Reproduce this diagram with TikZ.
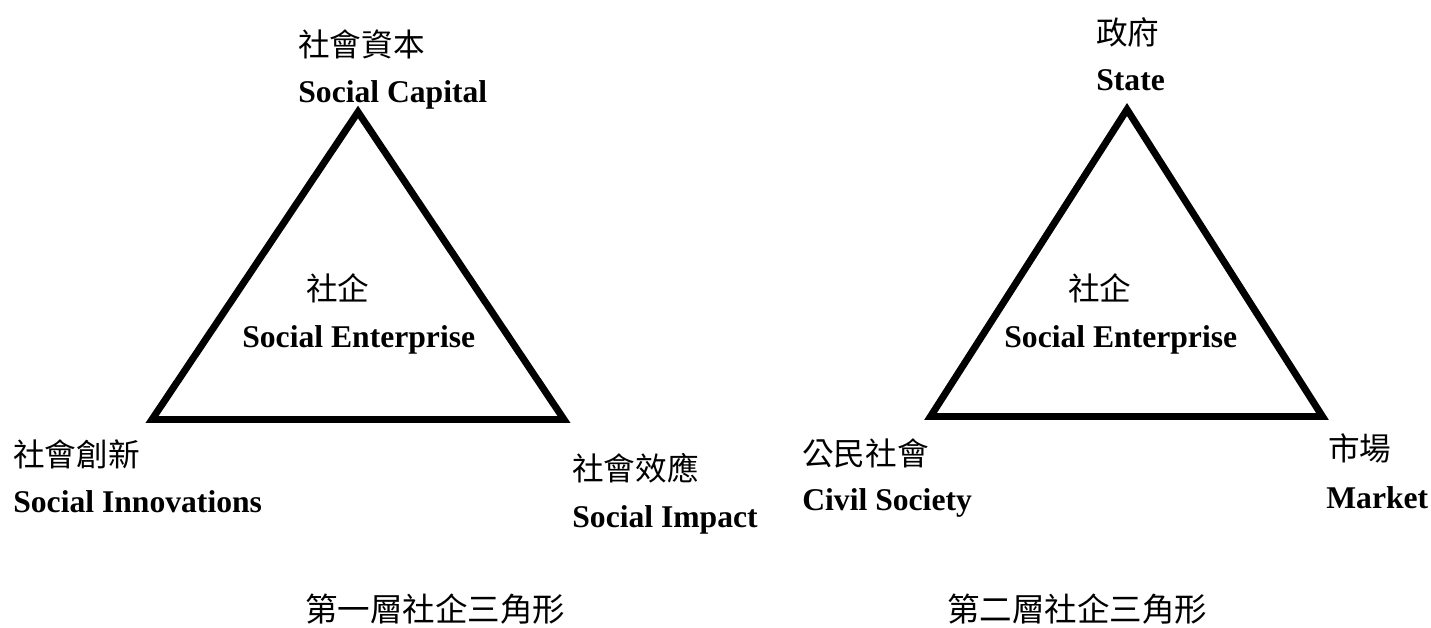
\documentclass[tikz,border=0pt]{standalone}
\usepackage{fontspec}
\setmainfont{Liberation Serif}
\newfontfamily\cjk{Noto Sans CJK TC}
\tikzset{
  zh/.style={anchor=base west, inner sep=0pt, font=\cjk\fontsize{18pt}{20pt}\selectfont},
  en/.style={anchor=base west, inner sep=0pt, font=\bfseries\fontsize{18pt}{20pt}\selectfont},
  caption/.style={anchor=base west, inner sep=0pt, font=\cjk\fontsize{18.5pt}{22pt}\selectfont},
  tri/.style={line width=0.14cm, line join=miter}
}
\begin{document}
\begin{tikzpicture}[x=0.02cm, y=-0.02cm]
    \useasboundingbox (0, 0) rectangle (1431, 628);
    % first triangle
    \coordinate (capital) at (358, 112);
    \coordinate (innov) at (152, 419.5);
    \coordinate (impact) at (564, 419.5);
    \draw[tri] (capital) -- (innov) -- (impact) -- cycle;
    \node[zh] (capitalzh) at (298, 57) {社會資本};
    \node[en] (capitalen) at (298, 103) {Social Capital};
    \node[zh] (innovzh) at (13, 466) {社會創新};
    \node[en] (innoven) at (13, 512) {Social Innovations};
    \node[zh] (impactzh) at (572, 480) {社會效應};
    \node[en] (impacten) at (572, 527) {Social Impact};
    \node[zh] (sezh1) at (306, 301) {社企};
    \node[en] (seen1) at (242, 348) {Social Enterprise};
    \node[caption] (cap1) at (305, 621) {第一層社企三角形};
    % second triangle
    \coordinate (state) at (1127, 109.5);
    \coordinate (civil) at (930.5, 416.5);
    \coordinate (market) at (1322.5, 416.5);
    \draw[tri] (state) -- (civil) -- (market) -- cycle;
    \node[zh] (statezh) at (1096, 45) {政府};
    \node[en] (stateen) at (1096, 91) {State};
    \node[zh] (civilzh) at (802, 465) {公民社會};
    \node[en] (civilen) at (802, 510) {Civil Society};
    \node[zh] (marketzh) at (1328, 460) {市場};
    \node[en] (marketen) at (1326, 508) {Market};
    \node[zh] (sezh2) at (1068, 301) {社企};
    \node[en] (seen2) at (1004, 348) {Social Enterprise};
    \node[caption] (cap2) at (947, 621) {第二層社企三角形};
\end{tikzpicture}
\end{document}
